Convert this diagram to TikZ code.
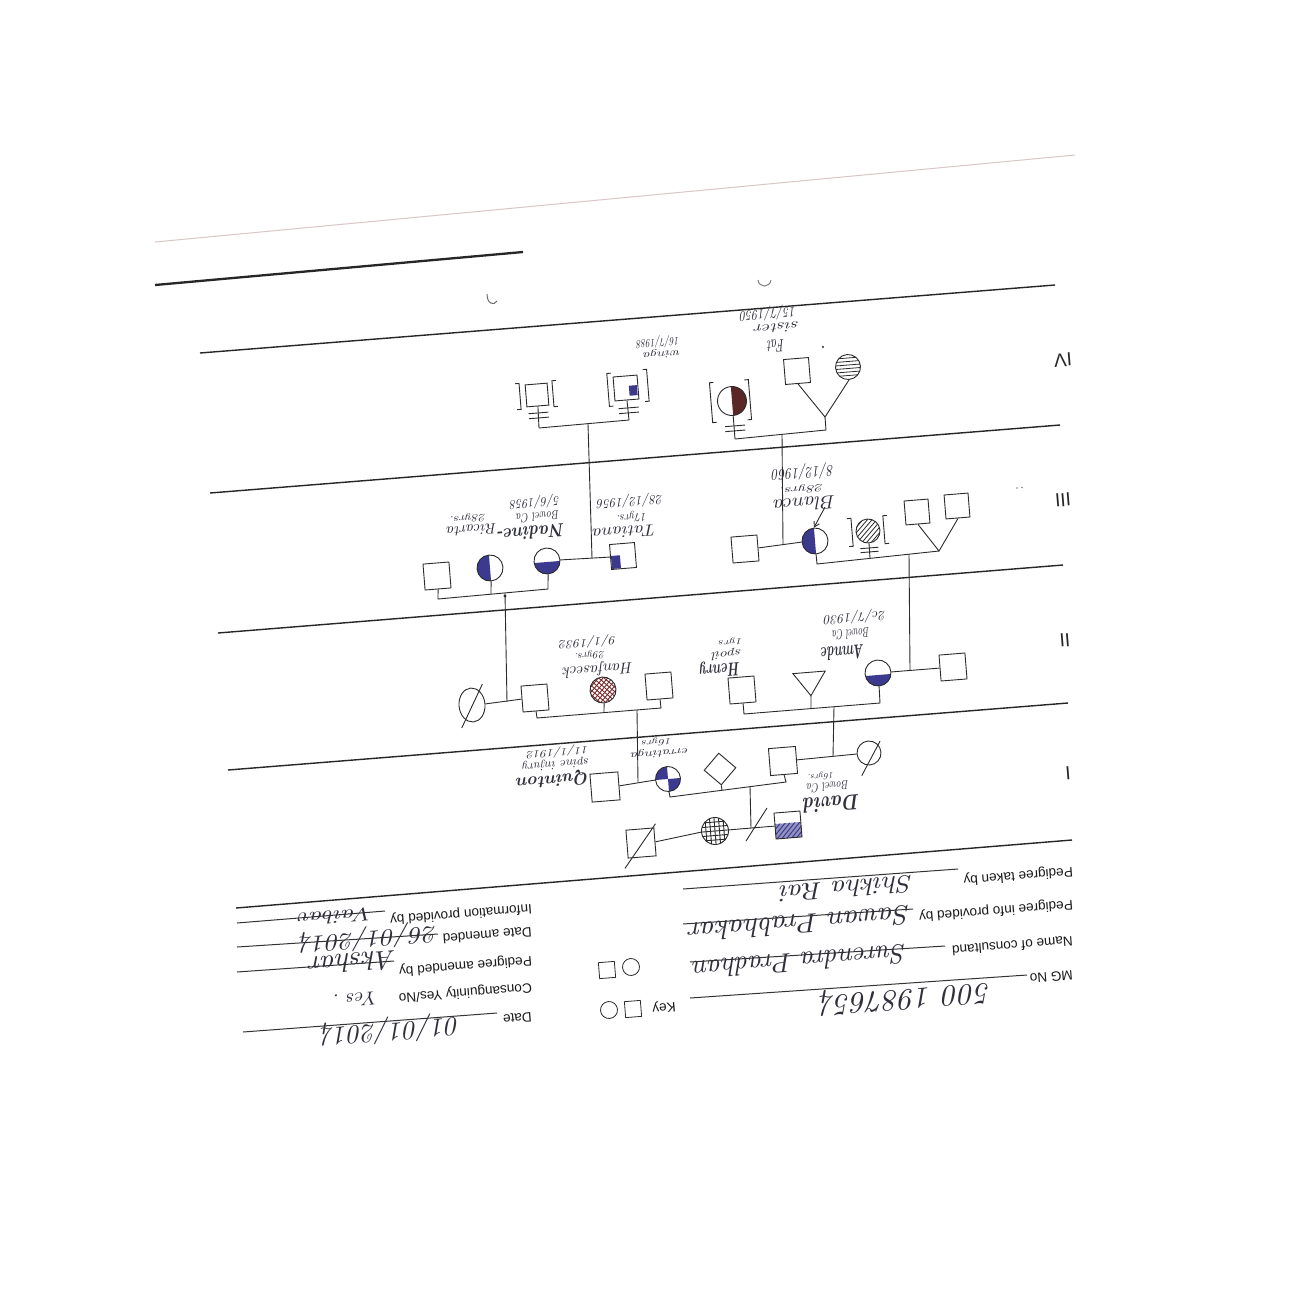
\documentclass[tikz,border=0pt]{standalone}
\usepackage{fontspec}
\setsansfont{Liberation Sans}
\usetikzlibrary{shapes.geometric,arrows.meta}
\definecolor{ink}{HTML}{2B2B2B}
\definecolor{pen}{HTML}{30303C}
\definecolor{fillblue}{HTML}{3B3A8E}
\definecolor{redhatch}{HTML}{7A2A2A}
\definecolor{maroonfill}{HTML}{5A2626}
\definecolor{edge}{HTML}{D9C6C6}
\newcommand\hw[3]{\resizebox{#1pt}{#2pt}{\itshape #3}}
\newcommand\hwb[3]{\resizebox{#1pt}{#2pt}{\bfseries\itshape #3}}
\begin{document}
\begin{tikzpicture}[x=1pt,y=-1pt,
  rule/.style={line width=1.4pt, draw=black!85},
  ans/.style={line width=1pt, draw=black!80},
  ln/.style={line width=0.9pt, draw=ink},
  sqr/.style={draw=ink, line width=0.9pt, rectangle, minimum size=#1pt, inner sep=0pt, rotate=4.6},
  sqr/.default=26,
  cir/.style={draw=ink, line width=0.9pt, circle, minimum size=#1pt, inner sep=0pt, rotate=4.6},
  cir/.default=26,
  lab/.style={rotate=184.6, inner sep=0pt, font=\sffamily\fontsize{13.6}{15}\selectfont, text=black!90},
  gen/.style={rotate=184.6, inner sep=0pt, font=\sffamily\fontsize{19}{20}\selectfont, text=black!85},
  hand/.style={rotate=184.6, inner sep=0pt, text=pen},
  tilt/.style={shift={(#1)}, rotate=4.6},
]
\useasboundingbox (0,0) rectangle (1310,1310);
\fill[white] (0,0) rectangle (1310,1310);

% ---------- form rules ----------
\draw[edge, line width=1pt] (155,242) -- (1075,155);
\draw[rule, line width=2.3pt] (155,285) -- (523,252);
\draw[rule] (200,353) -- (1055,285);
\draw[rule] (210,493) -- (1060,425);
\draw[rule] (218,633) -- (1063,565);
\draw[rule] (228,770) -- (1068,703);
\draw[rule] (236,908) -- (1072,840);

% generation labels
\node[gen] (gIV) at (1063,360) {IV};
\node[gen] (gIII) at (1063,500) {III};
\node[gen] (gII) at (1065,640) {II};
\node[gen] (gI) at (1068,773) {I};
\fill[black!50] (1017,488) circle[radius=0.8pt] (1022,487.5) circle[radius=0.8pt];

% ---------- form fields ----------
\node[lab, anchor=west] (f1) at (1073,871) {Pedigree taken by};
\node[lab, anchor=west] (f2) at (1073,904) {Pedigree info provided by};
\node[lab, anchor=west] (f3) at (1073,941) {Name of consultand};
\node[lab, anchor=west] (f4) at (1073,975) {MG No};
\node[lab, anchor=west] (f5) at (532,908) {Information provided by};
\node[lab, anchor=west] (f6) at (532,932) {Date amended};
\node[lab, anchor=west] (f7) at (532,960) {Pedigree amended by};
\node[lab, anchor=west] (f8) at (532,987) {Consanguinity Yes/No};
\node[lab, anchor=west] (f9) at (532,1017) {Date};
\node[lab] (fk) at (664,1007) {Key};

\draw[ans] (958,869) -- (683,889);
\draw[ans] (913,909) -- (683,924);
\draw[ans] (945,946) -- (690,962);
\draw[ans] (1027,975) -- (690,998);
\draw[ans] (385,911) -- (237,923);
\draw[ans] (438,934) -- (237,947);
\draw[ans] (394,961) -- (237,972);
\draw[ans] (497,1013) -- (243,1032);

% key symbols
\node[sqr=16, line width=0.8pt] (k1) at (633,1009) {};
\node[cir=17, line width=0.8pt] (k2) at (609,1010) {};
\node[sqr=16, line width=0.8pt] (k3) at (607,970) {};
\node[cir=17, line width=0.8pt] (k4) at (631,967) {};

% handwritten form entries
\node[hand] (h1) at (847,889) {\hw{133}{17}{Shikha Rai}};
\node[hand] (h2) at (800,924) {\hw{222}{19}{Sawan Prabhakar}};
\node[hand] (h3) at (800,962) {\hw{214}{19}{Surendra Pradhan}};
\node[hand] (h4) at (905,997) {\hw{173}{20}{500 1987654}};
\node[hand] (h5) at (336,917) {\hw{75}{13}{Vaibav}};
\node[hand] (h6) at (368,938) {\hw{139}{18}{26/01/2014}};
\node[hand] (h7) at (353,963) {\hw{87}{19}{Akshar}};
\node[hand] (h8) at (356,1000) {\hw{45}{13}{Yes .}};
\node[hand] (h9) at (390,1030) {\hw{140}{20}{01/01/2014}};

% ---------- Generation IV ----------
\node[sqr=22] (a4) at (537,395) {};
\begin{scope}[tilt=a4]
  \draw[ln] (-21,-13)--(-17,-13)--(-17,13)--(-21,13);
  \draw[ln] (20,-13)--(16,-13)--(16,13)--(20,13);
  \draw[ln] (-10,18)--(10,18); \draw[ln] (-10,23)--(10,23);
\end{scope}
\coordinate (a4s) at (539,428);
\draw[ln] (a4.south) -- (a4s);

\coordinate (b4c) at (626,388);
\begin{scope}[tilt=b4c]
  \fill[fillblue] (3,-2) rectangle (11,8);
  \draw[ln] (-14,-16)--(-18,-16)--(-18,17)--(-14,17);
  \draw[ln] (18,-17)--(22,-17)--(22,15)--(18,15);
  \draw[ln] (-9,20)--(11,20); \draw[ln] (-9,25)--(11,25);
\end{scope}
\node[sqr=24] (b4) at (b4c) {};
\coordinate (b4s) at (629,420);
\draw[ln] (b4.south) -- (b4s);

\coordinate (c4c) at (732,401);
\begin{scope}[tilt=c4c]
  \clip (0,0) circle[radius=14.5pt];
  \fill[maroonfill] (0,-15) rectangle (15,15);
\end{scope}
\node[cir=29] (c4) at (c4c) {};
\begin{scope}[tilt=c4c]
  \draw[ln] (-17,-20)--(-21,-20)--(-21,20)--(-17,20);
  \draw[ln] (14,-20)--(18,-20)--(18,20)--(14,20);
  \draw[ln] (-9,25)--(11,25); \draw[ln] (-9,30)--(11,30);
\end{scope}
\coordinate (c4s) at (735,439);
\draw[ln] (c4.south) -- (c4s);

\node[sqr=25] (d4) at (797,371) {};
\coordinate (e4c) at (848,367);
\begin{scope}[tilt=e4c]
  \clip (0,0) circle[radius=12.5pt];
  \foreach \k in {-9,-5.5,-2,1.5,5,8.5} \draw[ln, line width=0.8pt] (-13,\k) -- (13,\k);
\end{scope}
\node[cir=25] (e4) at (e4c) {};
\coordinate (t4) at (825,417);
\coordinate (t4s) at (826,430);
\draw[ln] (d4.south) -- (t4) -- (e4.south);
\draw[ln] (t4) -- (t4s);

\draw[ln] (a4s) -- (b4s);
\coordinate (m4l) at (588,424);
\draw[ln] (c4s) -- (t4s);
\coordinate (m4r) at (782,434.5);

\node[hand] (tWi1) at (662,354) {\hw{37}{7}{winga}};
\node[hand] (tWi2) at (658,342) {\hw{43}{9}{16/7/1988}};
\node[hand] (tFa1) at (776,346) {\hw{17}{12}{Fat}};
\node[hand] (tFa2) at (777,328) {\hw{45}{9}{sister}};
\node[hand] (tFa3) at (768,313) {\hw{56}{11}{15/7/1950}};
\fill[ink] (823,347) circle[radius=1.2pt];

% ---------- Generation III ----------
\node[sqr=26] (A3) at (437,576) {};
\coordinate (cB3) at (490,568);
\begin{scope}[tilt=cB3]\clip (0,0) circle[radius=13pt]; \fill[fillblue] (-14,-14) rectangle (0,14);\end{scope}
\node[cir=26] (B3) at (cB3) {};
\coordinate (cC3) at (547,561);
\begin{scope}[tilt=cC3]\clip (0,0) circle[radius=13pt]; \fill[fillblue] (-14,1) rectangle (14,14);\end{scope}
\node[cir=26] (C3) at (cC3) {};
\coordinate (cD3) at (623,556);
\begin{scope}[tilt=cD3]\fill[fillblue] (-12,-1) rectangle (-3,12);\end{scope}
\node[sqr=25] (D3) at (cD3) {};
\node[sqr=26] (E3) at (745,549) {};
\coordinate (cF3) at (815,541);
\begin{scope}[tilt=cF3]\clip (0,0) circle[radius=13pt]; \fill[fillblue] (-14,-14) rectangle (0,14);\end{scope}
\node[cir=26] (F3) at (cF3) {};
\coordinate (cG3) at (868,531);
\begin{scope}[tilt=cG3]
  \clip (0,0) circle[radius=12pt];
  \foreach \k in {-16,-11,-6,-1,4,9,14} \draw[ln, line width=0.8pt] (\k-14,14) -- (\k+14,-14);
\end{scope}
\node[cir=24] (G3) at (cG3) {};
\begin{scope}[tilt=cG3]
  \draw[ln] (-20,-14)--(-16,-14)--(-16,14)--(-20,14);
  \draw[ln] (20,-14)--(16,-14)--(16,14)--(20,14);
  \draw[ln] (-9,17)--(9,17); \draw[ln] (-9,21)--(9,21);
\end{scope}
\node[sqr=24] (H3a) at (917,512) {};
\node[sqr=24] (H3b) at (957,506) {};
\coordinate (t3) at (939,551);
\draw[ln] (H3a.south) -- (t3) -- (H3b.south);

% arrow to proband
\coordinate (pa) at (825,507);
\draw[ln, -{Straight Barb[length=5pt,width=6pt]}] (pa) -- (F3.north);

\coordinate (a3s) at (438,599);
\coordinate (b3s) at (491,594);
\coordinate (c3s) at (548,589);
\coordinate (m3l) at (505,593);
\draw[ln] (A3.south) -- (a3s) -- (c3s) -- (C3.south);
\draw[ln] (B3.south) -- (b3s);
\fill[ink] (m3l) ++(0,3) circle[radius=1.6pt];

\draw[ln] (C3.east) -- (D3.west);
\coordinate (u3l) at (592,558);
\draw[ln] (E3.east) -- (F3.west);
\coordinate (u3r) at (783,545);
\draw[ln] (u3l) -- (m4l);
\draw[ln] (u3r) -- (m4r);

\coordinate (f3s) at (817,564);
\coordinate (g3s) at (870,558);
\coordinate (m3r) at (909,554);
\draw[ln] (F3.south) -- (f3s) -- (t3);
\draw[ln] (G3.south) -- (g3s);

\node[hand] (tNa1) at (531,533) {\hwb{68}{13}{Nadine-}};
\node[hand] (tNa2) at (538,517) {\hw{43}{9}{Bowel Ca}};
\node[hand] (tNa3) at (535,502) {\hw{50}{10}{5/6/1958}};
\node[hand] (tRi1) at (472,530) {\hw{50}{10}{Ricarta}};
\node[hand] (tRi2) at (468,518) {\hw{36}{7}{28yrs.}};
\node[hand] (tTa1) at (625,532) {\hw{64}{11}{Tatiana}};
\node[hand] (tTa2) at (632,517) {\hw{30}{8}{17yrs.}};
\node[hand] (tTa3) at (630,501) {\hw{66}{10}{28/12/1956}};
\node[hand] (tBl1) at (805,504) {\hw{62}{13}{Blanca}};
\node[hand] (tBl2) at (802,489) {\hw{44}{7}{28yrs.}};
\node[hand] (tBl3) at (803,472) {\hw{62}{12}{8/12/1960}};

% ---------- Generation II ----------
\node[draw=ink, line width=0.9pt, ellipse, minimum width=26pt, minimum height=34pt, inner sep=0pt, rotate=4.6] (P2) at (472,705) {};
\begin{scope}[tilt=P2]\draw[ln] (-12,22) -- (12,-20);\end{scope}
\node[sqr=26] (Q2) at (535,698) {};
\coordinate (cR2) at (603,690);
\begin{scope}[tilt=cR2]
  \clip (0,0) circle[radius=13pt];
  \foreach \k in {-16,-11,-6,-1,4,9,14} {
    \draw[redhatch, line width=0.9pt] (\k-14,14) -- (\k+14,-14);
    \draw[redhatch, line width=0.9pt] (\k-14,-14) -- (\k+14,14);}
\end{scope}
\node[cir=26] (R2) at (cR2) {};
\node[sqr=26] (S2) at (659,686) {};
\node[sqr=26] (T2) at (742,690) {};
\node[inner sep=0pt, minimum width=32pt, minimum height=23pt, rotate=4.6] (U2) at (810,684) {};
\draw[ln] (U2.north west) -- (U2.north east) -- (U2.south) -- cycle;
\coordinate (cV2) at (878,673);
\begin{scope}[tilt=cV2]\clip (0,0) circle[radius=13pt]; \fill[fillblue] (-14,2) rectangle (14,14);\end{scope}
\node[cir=26] (V2) at (cV2) {};
\node[sqr=26] (W2) at (953,667) {};

\draw[ln] (P2.east) -- (Q2.west);
\coordinate (u2l) at (507,702);
\draw[ln] (u2l) -- (m3l);

\coordinate (q2s) at (537,718);
\coordinate (r2s) at (604,712.5);
\coordinate (s2s) at (661,708);
\coordinate (m2l) at (637,710);
\draw[ln] (Q2.south) -- (q2s) -- (s2s) -- (S2.south);
\draw[ln] (R2.south) -- (r2s);

\coordinate (t2s) at (744,714);
\coordinate (u2s) at (811,708.5);
\coordinate (v2s) at (880,703);
\coordinate (m2x) at (834,706.7);
\draw[ln] (T2.south) -- (t2s) -- (v2s) -- (V2.south);
\draw[ln] (U2.south) -- (u2s);

\draw[ln] (V2.east) -- (W2.west);
\coordinate (m2r) at (910,670);
\draw[ln] (m2r) -- (m3r);

\node[hand] (tHf1) at (598,669) {\hw{70}{11}{Hanfaseck}};
\node[hand] (tHf2) at (590,655) {\hw{30}{7}{29yrs.}};
\node[hand] (tHf3) at (588,642) {\hw{57}{9}{9/1/1932}};
\node[hand] (tHe1) at (720,669) {\hwb{40}{13}{Henry}};
\node[hand] (tHe2) at (727,654) {\hw{30}{8}{spoil}};
\node[hand] (tHe3) at (731,642) {\hw{24}{6}{1yrs}};
\node[hand] (tAm1) at (843,653) {\hwb{43}{14}{Amnde}};
\node[hand] (tAm2) at (851,634) {\hw{37}{10}{Bowel Ca}};
\node[hand] (tAm3) at (855,617) {\hw{62}{10}{2c/7/1930}};

% ---------- Generation I ----------
\node[sqr=28] (Qn) at (605,787) {};
\coordinate (cK1) at (668,779);
\begin{scope}[tilt=cK1]
  \clip (0,0) circle[radius=12.5pt];
  \fill[fillblue] (-13,-13) rectangle (0,0);
  \fill[fillblue] (0,0) rectangle (13,13);
\end{scope}
\node[cir=25] (K1) at (cK1) {};
\node[draw=ink, line width=0.9pt, diamond, minimum size=32pt, inner sep=0pt, rotate=4.6] (L1) at (720,769) {};
\node[sqr=27] (X1) at (783,761) {};
\node[cir=24] (Y1) at (869,753) {};
\begin{scope}[tilt=Y1]\draw[ln] (-9,22) -- (12,-11);\end{scope}
\node[sqr=28] (Z1) at (641,843) {};
\begin{scope}[tilt=Z1]\draw[ln] (-18,24) -- (16,-18);\end{scope}
\coordinate (cAA) at (715,831);
\begin{scope}[tilt=cAA]
  \clip (0,0) circle[radius=13.5pt];
  \foreach \k in {-9,-4.5,0,4.5,9} {
    \draw[ln] (\k,-14) -- (\k,14);
    \draw[ln] (-14,\k) -- (14,\k);}
\end{scope}
\node[cir=27] (AA1) at (cAA) {};
\coordinate (cBB) at (788,825);
\begin{scope}[tilt=cBB]
  \clip (-13,-2) rectangle (13,13);
  \fill[fillblue!55] (-13,-2) rectangle (13,13);
  \foreach \k in {-20,-15,...,20} \draw[fillblue, line width=1pt] (\k-8,14) -- (\k+8,-3);
\end{scope}
\node[sqr=26] (BB1) at (cBB) {};

\draw[ln] (Qn.east) -- (K1.west);
\coordinate (u1l) at (638,782);
\draw[ln] (u1l) -- (m2l);

\coordinate (k1s) at (670,797);
\coordinate (l1s) at (722,790.5);
\coordinate (x1s) at (786,782);
\coordinate (m1) at (750,786.6);
\draw[ln] (K1.south) -- (k1s) -- (x1s) -- (X1.south);
\draw[ln] (L1.south) -- (l1s);

\draw[ln] (X1.east) -- (Y1.west);
\coordinate (u1r) at (833,756.4);
\draw[ln] (u1r) -- (m2x);

\draw[ln] (Z1.east) -- (AA1.west);
\draw[ln] (AA1.east) -- (BB1.west);
\coordinate (w1) at (751,828);
\draw[ln] (m1) -- (w1);
\coordinate (sl1) at (746,841);
\coordinate (sl2) at (767,808);
\draw[ln] (sl1) -- (sl2);

\node[hand] (tQn1) at (553,780) {\hwb{73}{12}{Quinton}};
\node[hand] (tQn2) at (556,764) {\hw{67}{8}{spine injury}};
\node[hand] (tQn3) at (558,752) {\hw{62}{8}{11/1/1912}};
\node[hand] (tK1a) at (660,753) {\hw{58}{7}{erratinga}};
\node[hand] (tK1b) at (657,742) {\hw{30}{6}{16yrs}};
\node[hand] (tD1) at (832,804) {\hwb{56}{15}{David}};
\node[hand] (tD2) at (828,787) {\hw{42}{9}{Bowel Ca}};
\node[hand] (tD3) at (821,776) {\hw{26}{6}{16yrs.}};

% small marks
\draw[ink!70, line width=1pt] (487,294) .. controls (487,304) and (494,306) .. (497,301);
\draw[ink!60, line width=1pt] (758,280) .. controls (759,288) and (770,288) .. (771,280);
\end{tikzpicture}
\end{document}
